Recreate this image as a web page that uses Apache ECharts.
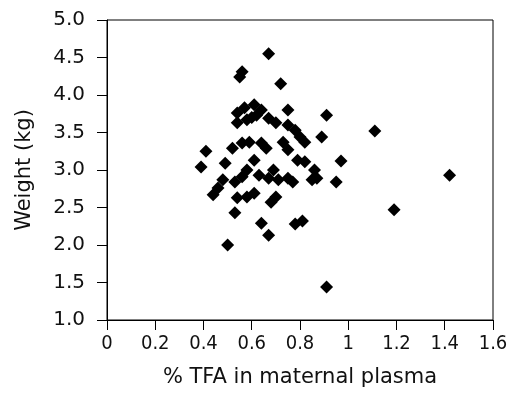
<!DOCTYPE html>
<html>
<head>
<meta charset="utf-8">
<script src="https://cdn.jsdelivr.net/npm/echarts@6/dist/echarts.min.js"></script>
<style>html,body{margin:0;padding:0;background:#fff}#c{width:514px;height:401px}</style>
</head>
<body>
<div id="c"></div>
<script>
var tfa = [0.67,0.56,0.55,0.72,1.11,0.41,0.39,0.48,0.46,0.44,0.97,0.95,1.42,0.53,0.64,0.67,0.50,0.78,0.81,1.19,0.91,
  0.54,0.57,0.61,0.62,0.67,0.70,0.54,0.58,0.75,0.75,0.78,0.80,0.82,0.91,0.89,0.52,0.56,0.59,0.64,0.66,
  0.73,0.75,0.61,0.49,0.79,0.82,0.86,0.87,0.85,0.58,0.56,0.53,0.63,0.69,0.67,0.71,0.75,0.77,0.54,0.58,
  0.61,0.68,0.70,0.64,0.60];
var weight = [4.55,4.31,4.24,4.15,3.52,3.25,3.04,2.87,2.76,2.67,3.12,2.84,2.93,2.43,2.29,2.13,2.00,2.28,2.32,2.47,1.44,
  3.76,3.83,3.87,3.73,3.69,3.63,3.63,3.67,3.80,3.60,3.53,3.44,3.37,3.73,3.44,3.29,3.36,3.37,3.36,3.29,
  3.37,3.27,3.13,3.09,3.13,3.11,3.00,2.89,2.87,3.00,2.91,2.84,2.93,3.00,2.89,2.87,2.89,2.84,2.63,2.64,
  2.69,2.57,2.64,3.80,3.70];
var xTicks = ['0','0.2','0.4','0.6','0.8','1','1.2','1.4','1.6'];
var yTicks = ['1.0','1.5','2.0','2.5','3.0','3.5','4.0','4.5','5.0'];
var xTitle = '% TFA in maternal plasma';
var yTitle = 'Weight (kg)';

var points = tfa.map(function(v, i){ return [v, weight[i]]; });

var chart = echarts.init(document.getElementById('c'), null, {renderer:'canvas'});
chart.setOption({
  animation: false,
  grid: {left:107, right:21, top:20, bottom:81, show:true, borderColor:'#000', borderWidth:1, containLabel:false},
  xAxis: {
    type:'value', min:0, max:1.6, interval:0.2,
    name: xTitle, nameLocation:'middle', nameGap:47,
    nameTextStyle:{fontFamily:'DejaVu Sans', fontSize:21, color:'#111'},
    axisLine:{show:true, lineStyle:{color:'#000', width:1}},
    axisTick:{show:true, length:10, lineStyle:{color:'#000', width:1}},
    splitLine:{show:false},
    axisLabel:{margin:14, fontFamily:'DejaVu Sans Condensed, DejaVu Sans', fontSize:20, color:'#111',
      formatter:function(v){ return xTicks[Math.round(v/0.2)]; }}
  },
  yAxis: {
    type:'value', min:1, max:5, interval:0.5,
    name: yTitle, nameLocation:'middle', nameGap:72, nameRotate:90,
    nameTextStyle:{fontFamily:'DejaVu Sans', fontSize:21, color:'#111'},
    axisLine:{show:true, lineStyle:{color:'#000', width:1}},
    axisTick:{show:true, length:10, lineStyle:{color:'#000', width:1}},
    splitLine:{show:false},
    axisLabel:{margin:22, fontFamily:'DejaVu Sans', fontSize:20, color:'#111',
      formatter:function(v){ return yTicks[Math.round((v-1)/0.5)]; }}
  },
  series: [{
    type:'scatter', symbol:'diamond', symbolSize:13,
    itemStyle:{color:'#000', opacity:1},
    data: points
  }]
});
</script>
</body>
</html>
